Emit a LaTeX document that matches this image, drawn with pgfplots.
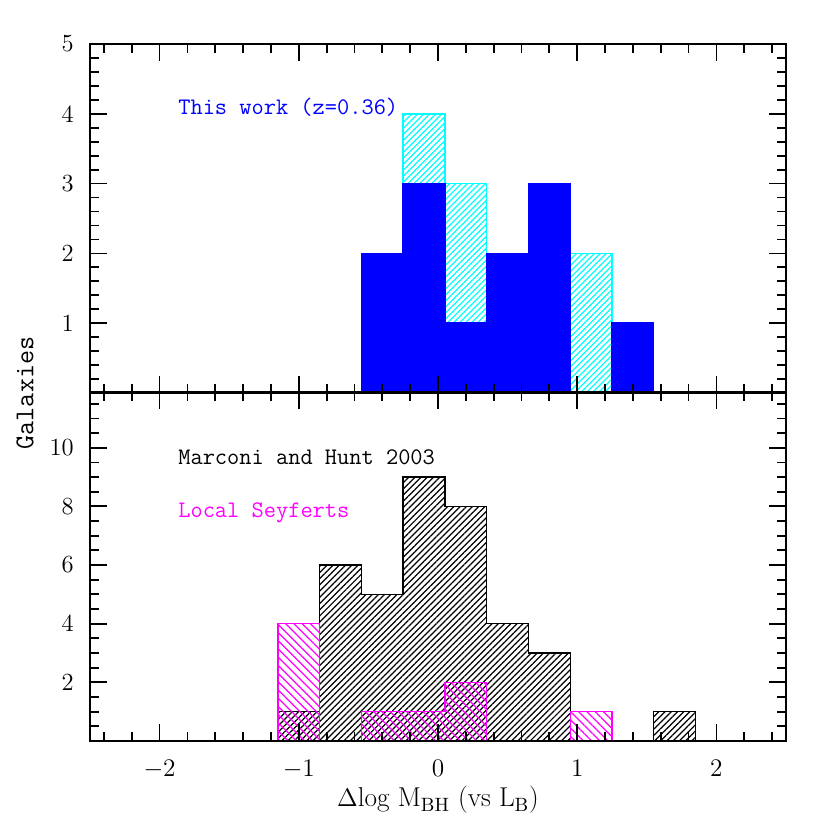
\documentclass[border=0pt]{standalone}
\usepackage{pgfplots}
\pgfplotsset{compat=1.18}
\usetikzlibrary{patterns.meta}

\definecolor{pgblue}{RGB}{0,0,255}
\definecolor{pgcyan}{RGB}{0,255,255}
\definecolor{pgmag}{RGB}{255,0,255}

\pgfplotsset{
  panel/.style={
    width=13.92cm, height=6.98cm, scale only axis,
    xmin=-2.5, xmax=2.5,
    xtick={-2,-1,0,1,2},
    minor xtick={-2.4,-2.2,-1.8,-1.6,-1.4,-1.2,-0.8,-0.6,-0.4,-0.2,0.2,0.4,0.6,0.8,1.2,1.4,1.6,1.8,2.2,2.4},
    axis on top,
    axis line style={line width=1pt},
    every tick/.style={black, line width=1pt},
    major tick length=0.34cm, minor tick length=0.18cm,
    tick label style={font=\fontsize{14}{16}\selectfont},
    yticklabel style={xshift=-0.2cm},
    xticklabel style={yshift=-0.25cm},
  }
}

\begin{document}
\begin{tikzpicture}
\path[use as bounding box] (0,0) rectangle (16.6,16.6);

% upper panel: this work
\begin{axis}[panel, at={(1.8cm,8.74cm)}, anchor=south west,
    ymin=0, ymax=5,
    ytick={0,1,2,3,4,5}, yticklabels={,1,2,3,4,5},
    minor ytick={0.2,0.4,0.6,0.8,1.2,1.4,1.6,1.8,2.2,2.4,2.6,2.8,3.2,3.4,3.6,3.8,4.2,4.4,4.6,4.8},
    xticklabels={}]
  \addplot[const plot, draw=pgcyan, line width=0.8pt,
    pattern={Lines[angle=45,distance=2.4pt,line width=0.7pt]}, pattern color=pgcyan]
    coordinates {(-0.55,2) (-0.25,4) (0.05,3) (0.35,2) (0.65,3) (0.95,2) (1.25,1) (1.55,0)} \closedcycle;
  \addplot[const plot, draw=pgblue, fill=pgblue, line width=0.8pt]
    coordinates {(-0.55,2) (-0.25,3) (0.05,1) (0.35,2) (0.65,3) (0.95,0) (1.25,1) (1.55,0)} \closedcycle;
  \node[anchor=west, pgblue, font=\fontsize{13.5}{15}\selectfont\ttfamily] at (axis cs:-1.91,4.09) {This work (z=0.36)};
\end{axis}

% lower panel: local samples
\begin{axis}[panel, at={(1.8cm,1.78cm)}, anchor=south west,
    ymin=0, ymax=11.9,
    ytick={0,2,4,6,8,10}, yticklabels={,2,4,6,8,10},
    minor ytick={0.5,1,1.5,2.5,3,3.5,4.5,5,5.5,6.5,7,7.5,8.5,9,9.5,10.5,11,11.5}]
  \addplot[const plot, draw=black, line width=0.8pt,
    pattern={Lines[angle=45,distance=2.5pt,line width=0.7pt]}, pattern color=black]
    coordinates {(-1.15,1) (-0.85,6) (-0.55,5) (-0.25,9) (0.05,8) (0.35,4) (0.65,3) (0.95,0)} \closedcycle;
  \addplot[const plot, draw=black, line width=0.8pt,
    pattern={Lines[angle=45,distance=2.5pt,line width=0.7pt]}, pattern color=black]
    coordinates {(1.55,1) (1.85,0)} \closedcycle;
  \addplot[const plot, draw=pgmag, line width=0.8pt,
    pattern={Lines[angle=-45,distance=3.3pt,line width=0.7pt]}, pattern color=pgmag]
    coordinates {(-1.15,4) (-0.85,0)} \closedcycle;
  \addplot[const plot, draw=pgmag, line width=0.8pt,
    pattern={Lines[angle=-45,distance=3.3pt,line width=0.7pt]}, pattern color=pgmag]
    coordinates {(-0.55,1) (-0.25,1) (0.05,2) (0.35,0)} \closedcycle;
  \addplot[const plot, draw=pgmag, line width=0.8pt,
    pattern={Lines[angle=-45,distance=3.3pt,line width=0.7pt]}, pattern color=pgmag]
    coordinates {(0.95,1) (1.25,0)} \closedcycle;
  \node[anchor=west, black, font=\fontsize{13.5}{15}\selectfont\ttfamily] at (axis cs:-1.91,9.69) {Marconi and Hunt 2003};
  \node[anchor=west, pgmag, font=\fontsize{13.5}{15}\selectfont\ttfamily] at (axis cs:-1.91,7.78) {Local Seyferts};
\end{axis}

\node[rotate=90, font=\fontsize{15.5}{18}\selectfont\ttfamily] at (0.5,8.74) {Galaxies};
\node[font=\fontsize{15.5}{18}\selectfont] at (8.76,0.6) {$\Delta$log M$_{\mathrm{BH}}$ (vs L$_{\mathrm{B}}$)};
\end{tikzpicture}
\end{document}
